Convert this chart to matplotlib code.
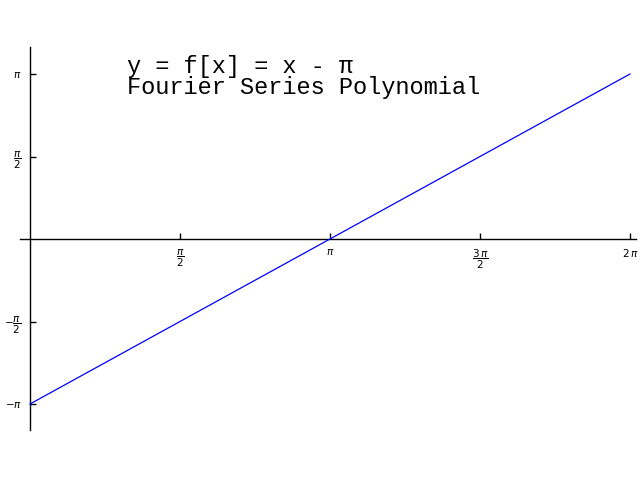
import numpy as np
import matplotlib
matplotlib.use("Agg")
import matplotlib.pyplot as plt

# f(x) = x - pi sampled on [0, 2pi]
x_vals = [0.0, np.pi / 2, np.pi, 3 * np.pi / 2, 2 * np.pi]
y_vals = [-np.pi, -np.pi / 2, 0.0, np.pi / 2, np.pi]

x_ticks = [np.pi / 2, np.pi, 3 * np.pi / 2, 2 * np.pi]
x_labels = [r"$\dfrac{\pi}{2}$", r"$\pi$", r"$\dfrac{3\,\pi}{2}$", r"$2\,\pi$"]
y_ticks = [-np.pi, -np.pi / 2, np.pi / 2, np.pi]
y_labels = [r"$-\pi$", r"$-\dfrac{\pi}{2}$", r"$\dfrac{\pi}{2}$", r"$\pi$"]

title_lines = ["y = f[x] = x - \u03c0", "Fourier Series Polynomial"]

fig = plt.figure(figsize=(6.4, 4.8), dpi=100)
ax = fig.add_axes([0, 0, 1, 1])
ax.set_facecolor("white")

px = 2 * np.pi / 600
py = np.pi / 165
ax.set_xlim(-30 * px, 610 * px)
ax.set_ylim(-241 * py, 239 * py)

ax.plot(x_vals, y_vals, color="#0000ff", lw=0.9)

for side in ["top", "right"]:
    ax.spines[side].set_visible(False)
ax.spines["left"].set_position(("data", 0))
ax.spines["bottom"].set_position(("data", 0))
ax.spines["left"].set_bounds(-191 * py, 192 * py)
ax.spines["bottom"].set_bounds(-10 * px, 606 * px)
for s in ["left", "bottom"]:
    ax.spines[s].set_linewidth(1.0)
    ax.spines[s].set_zorder(1)

ax.set_xticks(x_ticks)
ax.set_xticklabels(x_labels)
ax.set_yticks(y_ticks)
ax.set_yticklabels(y_labels)
ax.tick_params(axis="both", direction="in", length=4, width=1, labelsize=7.5, pad=6)

H = 480
ax.text(127, H - 55, title_lines[0], transform=None, family="Liberation Mono",
        fontsize=17, va="top", ha="left")
ax.text(127, H - 76, title_lines[1], transform=None, family="Liberation Mono",
        fontsize=17, va="top", ha="left")

fig.savefig("out.png", dpi=100)
